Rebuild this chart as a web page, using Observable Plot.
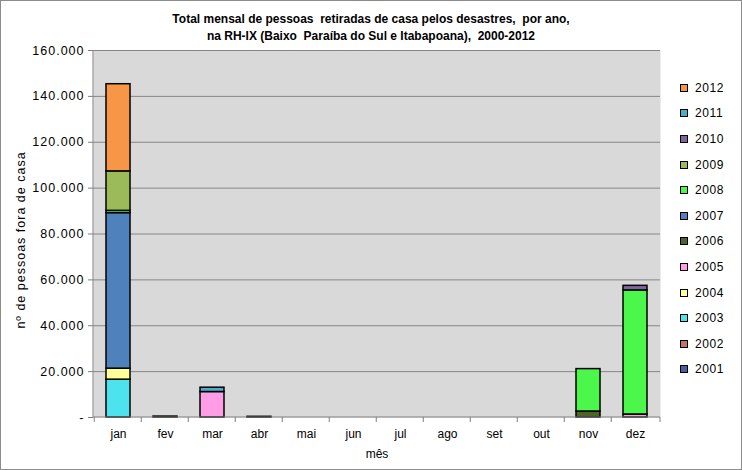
<!DOCTYPE html>
<html><head><meta charset="utf-8">
<script src="https://cdn.jsdelivr.net/npm/d3@7"></script>
<script src="https://cdn.jsdelivr.net/npm/@observablehq/plot@0.6"></script>
<style>
body{margin:0;background:#fff;font-family:"Liberation Sans",Arial,sans-serif;}
#wrap{position:relative;width:742px;height:470px;overflow:hidden;}
#chart{position:absolute;left:0;top:0;}
#title{position:absolute;left:0;top:11px;width:742px;text-align:center;font-weight:bold;font-size:12px;line-height:17px;white-space:pre;color:#000;}
#legend{position:absolute;left:680px;top:75px;font-size:12px;color:#000;}
#legend .row{height:25.6px;display:flex;align-items:center;letter-spacing:0.6px;}
#legend .sw{width:6px;height:6px;border:1px solid #000;margin-right:7px;}
#border{position:absolute;left:0;top:0;width:742px;height:470px;box-sizing:border-box;border:1px solid #8c8c8c;pointer-events:none;}
.yax text{letter-spacing:1px;}
</style></head>
<body>
<div id="wrap">
<div id="chart"></div>
<div id="title">Total mensal de pessoas  retiradas de casa pelos desastres,  por ano,
na RH-IX (Baixo  Paraíba do Sul e Itabapoana),  2000-2012</div>
<div id="legend"></div>
<div id="border"></div>
</div>
<script>
const months = ["jan","fev","mar","abr","mai","jun","jul","ago","set","out","nov","dez"];
const years = ["2001","2002","2003","2004","2005","2006","2007","2008","2009","2010","2011","2012"];
const colors = ["#44619e","#c0736d","#4de3ee","#ffff99","#ff9ee6","#4f6228","#4f81bd","#4cf74c","#9bbb59","#8064a2","#4bacc6","#f79646"];
const yTicks = [0,20000,40000,60000,80000,100000,120000,140000,160000];

const v2001 = [0,0,0,0,0,0,0,0,0,0,0,0];
const v2002 = [0,0,0,0,0,0,0,0,0,0,0,0];
const v2003 = [16500,0,0,0,0,0,0,0,0,0,0,0];
const v2004 = [4800,0,0,0,0,0,0,0,0,0,0,0];
const v2005 = [0,0,11100,0,0,0,0,0,0,0,0,1300];
const v2006 = [0,0,0,300,0,0,0,0,0,0,2600,0];
const v2007 = [67800,0,0,0,0,0,0,0,0,0,0,0];
const v2008 = [1000,400,0,0,0,0,0,0,0,0,18500,54100];
const v2009 = [17200,0,0,0,0,0,0,0,0,0,0,0];
const v2010 = [0,0,0,0,0,0,0,0,0,0,0,2000];
const v2011 = [0,0,1900,0,0,0,0,0,0,0,0,0];
const v2012 = [38000,0,0,0,0,0,0,0,0,0,0,0];
const series = [v2001,v2002,v2003,v2004,v2005,v2006,v2007,v2008,v2009,v2010,v2011,v2012];

const data = [];
years.forEach((yr, i) => months.forEach((m, j) => {
  if (series[i][j] > 0) data.push({month: m, year: yr, value: series[i][j]});
}));

const fmt = d => d === 0 ? "-" : d3.format(",")(d).replace(/,/g, ".");

const axisLines = (index, scales, values, dim) => {
  const g = document.createElementNS("http://www.w3.org/2000/svg", "g");
  const x0 = dim.marginLeft, x1 = dim.width - dim.marginRight;
  const y0 = dim.marginTop, y1 = dim.height - dim.marginBottom;
  const step = scales.x("fev") - scales.x("jan");
  const off = step * 0.25;
  const lines = [
    [x0, y0, x0, y1, "#7f7f7f"],
    [x0, y1, x1, y1, "#7f7f7f"]
  ];
  months.forEach(m => lines.push([scales.x(m) - off, y1, scales.x(m) - off, y1 + 5, "#7f7f7f"]));
  lines.push([x1, y1, x1, y1 + 5, "#7f7f7f"]);
  for (const [a, b, c, d, s] of lines) {
    const l = document.createElementNS("http://www.w3.org/2000/svg", "line");
    l.setAttribute("x1", a); l.setAttribute("y1", b); l.setAttribute("x2", c); l.setAttribute("y2", d);
    l.setAttribute("stroke", s);
    g.appendChild(l);
  }
  return g;
};

const chart = Plot.plot({
  width: 742, height: 470,
  marginTop: 50, marginBottom: 53, marginLeft: 93, marginRight: 82,
  style: {background: "transparent", fontFamily: "'Liberation Sans', Arial, sans-serif", fontSize: "12px", color: "#000", overflow: "visible"},
  x: {domain: months, paddingInner: 0.5, paddingOuter: 0.25, label: null},
  y: {domain: [0, 160000], label: null},
  color: {domain: years, range: colors},
  marks: [
    Plot.frame({fill: "#d9d9d9", stroke: null}),
    Plot.ruleY(yTicks.slice(1), {stroke: "#868686", strokeWidth: 1}),
    Plot.barY(data, Plot.stackY({x: "month", y: "value", fill: "year", stroke: "#000", strokeWidth: 1.5})),
    axisLines,
    Plot.axisY({ticks: yTicks, tickSize: 5, tickPadding: 4, tickFormat: fmt, fontSize: 12.5, stroke: "#7f7f7f", label: null, className: "yax"}),
    Plot.axisX({tickSize: 0, tickPadding: 12, fontSize: 12, label: null}),
    Plot.text(["mês"], {frameAnchor: "bottom", dy: 40, fontSize: 12, fill: "#000"}),
    Plot.text(["nº de pessoas fora de casa"], {frameAnchor: "left", dx: -73, dy: 6, rotate: -90, textAnchor: "middle", fontSize: 12.5, fill: "#000", className: "yax"})
  ]
});
document.getElementById("chart").appendChild(chart);

const legend = document.getElementById("legend");
years.slice().reverse().forEach(yr => {
  const i = years.indexOf(yr);
  const row = document.createElement("div");
  row.className = "row";
  row.innerHTML = `<span class="sw" style="background:${colors[i]}"></span><span>${yr}</span>`;
  legend.appendChild(row);
});
</script>
</body></html>
